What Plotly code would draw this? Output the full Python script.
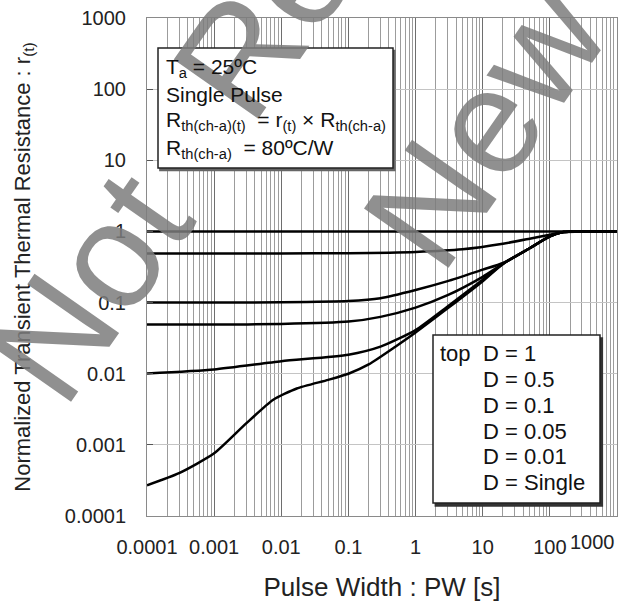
import numpy as np
import plotly.graph_objects as go

# ---------------- data ----------------
x_d1 = [1e-4, 1000]
y_d1 = [1.0, 1.0]

x_d05 = [1e-4, 1e-3, 1e-2, 0.1, 1, 5, 20, 50, 100, 160, 300, 1000]
y_d05 = [0.49, 0.49, 0.49, 0.495, 0.515, 0.56, 0.67, 0.79, 0.9, 0.98, 1.0, 1.0]

x_d01 = [1e-4, 1e-3, 1e-2, 0.1, 0.3, 1, 3, 10, 20, 50, 100, 160, 300, 1000]
y_d01 = [0.1, 0.1, 0.101, 0.105, 0.115, 0.15, 0.2, 0.29, 0.36, 0.58, 0.85, 0.98, 1.0, 1.0]

x_d005 = [1e-4, 1e-3, 1e-2, 0.1, 0.3, 1, 3, 10, 20, 50, 100, 160, 300, 1000]
y_d005 = [0.049, 0.049, 0.05, 0.054, 0.063, 0.085, 0.127, 0.23, 0.35, 0.58, 0.85, 0.98, 1.0, 1.0]

x_d001 = [1e-4, 1e-3, 1e-2, 0.1, 0.3, 1, 3, 10, 20, 50, 100, 160, 300, 1000]
y_d001 = [0.0101, 0.0115, 0.015, 0.0185, 0.024, 0.041, 0.088, 0.21, 0.35, 0.58, 0.85, 0.98, 1.0, 1.0]

x_single = [1e-4, 3e-4, 1e-3, 3e-3, 0.0076, 0.017, 0.05, 0.1, 0.2, 0.5, 1, 3, 10, 20, 50, 100,
            160, 300, 1000]
y_single = [0.00027, 0.0004, 0.00076, 0.002, 0.0043, 0.0062, 0.0082, 0.0100, 0.0135, 0.024,
            0.038, 0.083, 0.2, 0.35, 0.58, 0.85, 0.98, 1.0, 1.0]

x_ticks = [1e-4, 1e-3, 1e-2, 0.1, 1, 10, 100, 1000]
x_tick_text = ["0.0001", "0.001", "0.01", "0.1", "1", "10", "100", "1000"]
y_ticks = [1e-4, 1e-3, 1e-2, 0.1, 1, 10, 100, 1000]
y_tick_text = ["0.0001", "0.001", "0.01", "0.1", "1", "10", "100", "1000"]

legend_labels = ["D = 1", "D = 0.5", "D = 0.1", "D = 0.05", "D = 0.01", "D = Single"]
info_lines = [
    "T<sub>a</sub> = 25ºC",
    "Single Pulse",
    "R<sub>th(ch-a)(t)</sub>  = r<sub>(t)</sub> × R<sub>th(ch-a)</sub>",
    "R<sub>th(ch-a)</sub>  = 80ºC/W",
]
watermark_words = ["Not", "Rec", "New"]

FONT = "Liberation Sans, Arial, sans-serif"
W, H = 628, 612
ML, MR, MT, MB = 147, 11, 18, 96
PW, PH = W - ML - MR, H - MT - MB


def px2paper(px, py):
    return (px - ML) / PW, 1 - (py - MT) / PH


fig = go.Figure()
series = [(x_d1, y_d1), (x_d05, y_d05), (x_d01, y_d01), (x_d005, y_d005),
          (x_d001, y_d001), (x_single, y_single)]
for (xs, ys), name in zip(series, legend_labels):
    fig.add_trace(go.Scatter(x=xs, y=ys, mode="lines", name=name,
                             line=dict(color="black", width=2.5, shape="spline", smoothing=0.6),
                             showlegend=False))

minor_x = [k * 10.0 ** e for e in range(-4, 3) for k in range(2, 10)]

fig.update_layout(
    width=W, height=H,
    margin=dict(l=ML, r=MR, t=MT, b=MB, autoexpand=False),
    paper_bgcolor="white", plot_bgcolor="white",
    font=dict(family=FONT, color="#222"),
    xaxis=dict(type="log", range=[-4, 3], showline=True, mirror=True, linecolor="#8a8a8a",
               linewidth=1, showgrid=True, gridcolor="#6e6e6e", gridwidth=1,
               tickvals=x_ticks[:-1], ticktext=x_tick_text[:-1], ticks="",
               tickfont=dict(size=20, family=FONT, color="#222"), ticklabelstandoff=13,
               minor=dict(tickvals=minor_x, showgrid=True, gridcolor="#9c9c9c", gridwidth=1),
               title=dict(text="Pulse Width : PW [s]", font=dict(size=26, family=FONT, color="#222"),
                          standoff=20),
               zeroline=False),
    yaxis=dict(type="log", range=[-4, 3], showline=True, mirror=True, linecolor="#8a8a8a",
               linewidth=1, showgrid=True, gridcolor="#c4c4c4", gridwidth=1,
               tickvals=y_ticks, ticktext=y_tick_text, ticks="inside", ticklen=6, tickcolor="#555",
               tickfont=dict(size=20, family=FONT, color="#222"), ticklabelstandoff=16,
               title=dict(text="Normalized Transient Thermal Resistance : r<sub>(t)</sub>",
                          font=dict(size=22, family=FONT, color="#222"), standoff=28),
               zeroline=False),
)

# last x tick label kept inside the figure (right-aligned at the axis end)
fig.add_annotation(x=np.log10(x_ticks[-1]), y=0, xref="x", yref="paper", yshift=-13,
                   text=x_tick_text[-1], showarrow=False, xanchor="right", yanchor="top",
                   font=dict(size=20, family=FONT, color="#222"))

# watermark (one annotation per visible word)
wm_color = "rgba(125,125,125,0.85)"
wm_centers = [(88, 287), (285, -10), (485, 125)]
for word, (cx, cy) in zip(watermark_words, wm_centers):
    px, py = px2paper(cx, cy)
    fig.add_annotation(x=px, y=py, xref="paper", yref="paper", text=word, showarrow=False,
                       xanchor="center", yanchor="middle", textangle=-55,
                       font=dict(size=150, family=FONT, color=wm_color))

# info box
bx0, by0 = px2paper(158, 168)
bx1, by1 = px2paper(393, 48)
fig.add_shape(type="rect", xref="paper", yref="paper", x0=bx0 + 0.004, x1=bx1 + 0.004,
              y0=by0 - 0.005, y1=by1 - 0.005, line=dict(color="#666", width=1.5),
              fillcolor="#666", layer="above")
fig.add_shape(type="rect", xref="paper", yref="paper", x0=bx0, x1=bx1, y0=by0, y1=by1,
              line=dict(color="#222", width=1.5), fillcolor="white", layer="above")
for t, ypix in zip(info_lines, (68, 94, 121, 149)):
    px, py = px2paper(164, ypix)
    fig.add_annotation(x=px, y=py, xref="paper", yref="paper", text=t, showarrow=False,
                       xanchor="left", yanchor="middle", font=dict(size=21, family=FONT, color="#111"))

# legend box
lx0, ly0 = px2paper(433, 503)
lx1, ly1 = px2paper(600, 335)
fig.add_shape(type="rect", xref="paper", yref="paper", x0=lx0 + 0.005, x1=lx1 + 0.005,
              y0=ly0 - 0.006, y1=ly1 - 0.006, line=dict(color="#333", width=1.5),
              fillcolor="#333", layer="above")
fig.add_shape(type="rect", xref="paper", yref="paper", x0=lx0, x1=lx1, y0=ly0, y1=ly1,
              line=dict(color="#222", width=1.5), fillcolor="white", layer="above")
leg_rows = (353, 379, 405, 431, 456, 482)
px, py = px2paper(438, leg_rows[0])
fig.add_annotation(x=px, y=py, xref="paper", yref="paper", text="top",
                   showarrow=False, xanchor="left", yanchor="middle",
                   font=dict(size=22, family=FONT, color="#111"))
for t, ypix in zip(legend_labels, leg_rows):
    px, py = px2paper(481, ypix)
    fig.add_annotation(x=px, y=py, xref="paper", yref="paper", text=t,
                       showarrow=False, xanchor="left", yanchor="middle",
                       font=dict(size=22, family=FONT, color="#111"))

fig.write_html("out.html")
